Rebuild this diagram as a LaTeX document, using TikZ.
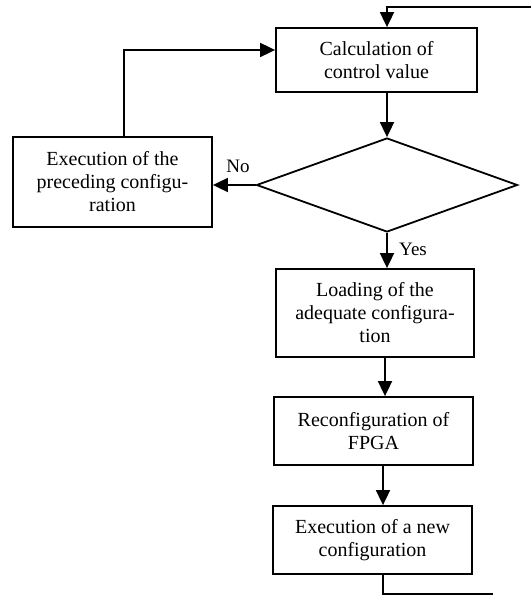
\documentclass[tikz,border=0pt]{standalone}
\usepackage{fontspec}
\setmainfont{Liberation Serif}
\usetikzlibrary{arrows.meta,shapes.geometric}
\begin{document}
\begin{tikzpicture}[x=1pt,y=-1pt,
  box/.style={draw,line width=1.8pt,rectangle,inner sep=0pt,align=center,
    font=\fontsize{20}{23}\selectfont},
  arr/.style={line width=1.8pt,-{Triangle[length=15pt,width=14pt]}},
  ln/.style={line width=1.8pt},
  lbl/.style={font=\fontsize{19}{20}\selectfont,inner sep=0pt}]
\useasboundingbox (0,0) rectangle (531,596);
\node[box,minimum width=201pt,minimum height=64pt] (calc) at (376.5,60) {Calculation of\\control value};
\node[draw,line width=1.8pt,diamond,inner sep=0pt,minimum width=261pt,minimum height=94pt,aspect=2.78] (dec) at (387,185) {};
\node[box,minimum width=199pt,minimum height=90pt] (prev) at (112.5,182) {Execution of the\\preceding configu-\\ration};
\node[box,minimum width=198pt,minimum height=88pt] (load) at (375,313) {Loading of the\\adequate configura-\\tion};
\node[box,minimum width=199pt,minimum height=68pt] (reconf) at (373.5,431) {Reconfiguration of\\FPGA};
\node[box,minimum width=199pt,minimum height=68pt] (exnew) at (372.5,540) {Execution of a new\\configuration};
\coordinate (tr) at (531,7);
\coordinate (br) at (493,594);
\coordinate (lp) at (124,50);
\draw[arr] (tr) -- (tr -| dec.north) -- (calc.north -| dec.north);
\draw[arr] (calc.south -| dec.north) -- (dec.north);
\draw[arr] (dec.west) -- (prev.east |- dec.west);
\draw[arr] (dec.south) -- (load.north -| dec.south);
\draw[arr] (load.south -| 385,0) -- (reconf.north -| 385,0);
\draw[arr] (reconf.south -| 383,0) -- (exnew.north -| 383,0);
\draw[ln] (exnew.south -| 383,0) |- (br);
\draw[arr] (prev.north -| lp) -- (lp) -- (calc.west |- lp);
\node[lbl] (no) at (238,166) {No};
\node[lbl] (yes) at (413,249) {Yes};
\end{tikzpicture}
\end{document}
